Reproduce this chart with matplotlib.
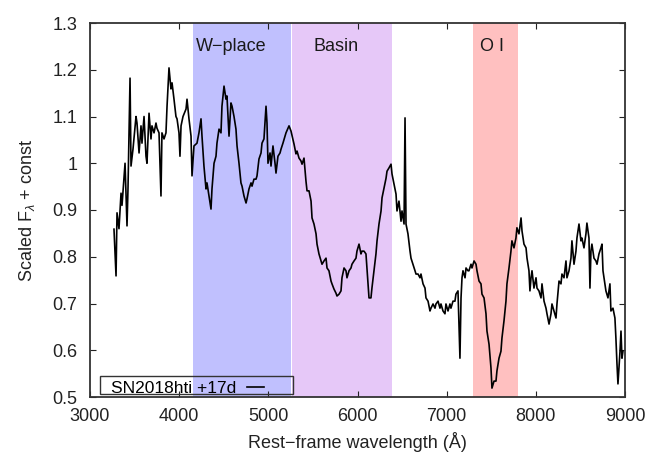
import matplotlib
matplotlib.use("Agg")
import matplotlib.pyplot as plt
from matplotlib.patches import Rectangle

plt.rcParams['font.family'] = ['Liberation Sans', 'DejaVu Sans']
plt.rcParams['mathtext.fontset'] = 'custom'
plt.rcParams['mathtext.rm'] = 'Liberation Sans'
plt.rcParams['mathtext.it'] = 'Liberation Sans:italic'

wavelength = [
    3269, 3292, 3303, 3325, 3348, 3359, 3393, 3415, 3426, 3449, 3460, 3482, 3516, 3527, 3550,
    3572, 3583, 3606, 3628, 3639, 3662, 3684, 3695, 3718, 3740, 3751, 3774, 3796, 3807, 3830,
    3852, 3864, 3886, 3908, 3920, 3942, 3964, 3976, 3998, 4009, 4021, 4043, 4077, 4088, 4110,
    4133, 4144, 4166, 4200, 4222, 4245, 4256, 4278, 4301, 4312, 4335, 4357, 4368, 4391, 4413,
    4424, 4447, 4469, 4480, 4503, 4525, 4536, 4559, 4581, 4593, 4615, 4637, 4649, 4671, 4693,
    4705, 4727, 4750, 4761, 4783, 4806, 4817, 4839, 4862, 4873, 4895, 4918, 4929, 4951, 4974,
    4985, 4996, 5019, 5030, 5052, 5075, 5086, 5108, 5131, 5142, 5164, 5187, 5198, 5232, 5254,
    5288, 5310, 5322, 5344, 5366, 5378, 5400, 5422, 5434, 5456, 5479, 5490, 5512, 5535, 5546,
    5568, 5591, 5602, 5624, 5647, 5658, 5680, 5703, 5714, 5736, 5759, 5770, 5793, 5815, 5826,
    5849, 5871, 5882, 5905, 5927, 5938, 5961, 5983, 5994, 6017, 6039, 6050, 6073, 6095, 6106,
    6129, 6151, 6162, 6185, 6207, 6219, 6241, 6264, 6275, 6297, 6320, 6331, 6353, 6376, 6387,
    6409, 6432, 6443, 6465, 6488, 6499, 6522, 6533, 6544, 6566, 6589, 6600, 6622, 6645, 6656,
    6679, 6701, 6712, 6735, 6757, 6768, 6791, 6813, 6824, 6847, 6869, 6880, 6903, 6925, 6936,
    6959, 6981, 6992, 7015, 7037, 7048, 7071, 7093, 7104, 7127, 7149, 7161, 7172, 7183, 7206,
    7217, 7239, 7250, 7273, 7284, 7307, 7329, 7340, 7363, 7385, 7396, 7419, 7441, 7452, 7475,
    7497, 7508, 7531, 7553, 7564, 7587, 7609, 7620, 7643, 7665, 7676, 7699, 7721, 7732, 7755,
    7777, 7788, 7811, 7834, 7845, 7867, 7890, 7901, 7923, 7934, 7946, 7957, 7979, 8002, 8013,
    8035, 8058, 8069, 8092, 8114, 8125, 8148, 8170, 8181, 8204, 8226, 8237, 8260, 8282, 8293,
    8316, 8338, 8349, 8372, 8394, 8405, 8428, 8450, 8461, 8484, 8506, 8517, 8540, 8562, 8573,
    8596, 8607, 8618, 8629, 8652, 8674, 8686, 8708, 8730, 8742, 8753, 8775, 8786, 8809, 8831,
    8842, 8865, 8887, 8898, 8910, 8921, 8944, 8955, 8966, 8977,
]

flux = [
    0.859, 0.759, 0.894, 0.860, 0.936, 0.910, 1.000, 0.866, 0.945, 1.182, 0.994, 1.030, 1.100, 1.086, 1.022,
    1.080, 1.043, 1.100, 1.015, 1.000, 1.107, 1.052, 1.080, 1.065, 1.086, 1.075, 1.065, 0.930, 1.065, 1.052,
    1.065, 1.122, 1.204, 1.159, 1.172, 1.137, 1.100, 1.095, 1.065, 1.015, 1.080, 1.100, 1.116, 1.137, 1.095,
    1.058, 0.973, 1.037, 1.043, 1.065, 1.095, 1.058, 0.994, 0.945, 0.958, 0.930, 0.902, 0.945, 1.000, 1.015,
    1.043, 1.073, 1.065, 1.122, 1.165, 1.137, 1.144, 1.058, 1.129, 1.122, 1.100, 1.073, 1.037, 1.000, 0.958,
    0.951, 0.930, 0.915, 0.924, 0.945, 0.958, 0.951, 0.966, 0.966, 0.973, 1.009, 1.022, 1.043, 1.052, 1.122,
    1.086, 1.000, 1.022, 0.994, 1.037, 1.000, 0.979, 1.015, 1.022, 1.030, 1.043, 1.058, 1.065, 1.080, 1.069,
    1.041, 1.020, 1.026, 1.011, 1.005, 0.998, 1.011, 0.962, 0.941, 0.941, 0.919, 0.883, 0.870, 0.849, 0.827,
    0.806, 0.791, 0.784, 0.791, 0.797, 0.776, 0.770, 0.748, 0.742, 0.731, 0.722, 0.716, 0.720, 0.727, 0.755,
    0.776, 0.770, 0.755, 0.770, 0.776, 0.784, 0.791, 0.797, 0.812, 0.827, 0.806, 0.812, 0.812, 0.806, 0.776,
    0.712, 0.712, 0.733, 0.770, 0.806, 0.834, 0.870, 0.898, 0.926, 0.947, 0.968, 0.983, 0.990, 0.998, 0.977,
    0.956, 0.934, 0.898, 0.919, 0.876, 0.898, 0.870, 1.097, 0.870, 0.849, 0.812, 0.797, 0.784, 0.770, 0.763,
    0.763, 0.755, 0.763, 0.742, 0.733, 0.712, 0.705, 0.684, 0.690, 0.699, 0.690, 0.699, 0.705, 0.690, 0.699,
    0.684, 0.678, 0.699, 0.684, 0.699, 0.690, 0.705, 0.705, 0.720, 0.727, 0.583, 0.712, 0.755, 0.770, 0.755,
    0.776, 0.770, 0.770, 0.784, 0.776, 0.791, 0.784, 0.770, 0.748, 0.742, 0.720, 0.712, 0.678, 0.641, 0.613,
    0.562, 0.519, 0.534, 0.534, 0.556, 0.583, 0.598, 0.626, 0.663, 0.705, 0.742, 0.776, 0.812, 0.834, 0.819,
    0.840, 0.862, 0.849, 0.883, 0.855, 0.827, 0.819, 0.797, 0.770, 0.727, 0.755, 0.770, 0.733, 0.755, 0.733,
    0.727, 0.712, 0.742, 0.705, 0.690, 0.678, 0.656, 0.678, 0.699, 0.684, 0.669, 0.699, 0.748, 0.742, 0.763,
    0.755, 0.791, 0.755, 0.770, 0.797, 0.834, 0.784, 0.812, 0.840, 0.870, 0.834, 0.840, 0.819, 0.849, 0.872,
    0.840, 0.733, 0.812, 0.827, 0.797, 0.791, 0.784, 0.806, 0.819, 0.827, 0.770, 0.742, 0.727, 0.712, 0.742,
    0.684, 0.690, 0.669, 0.626, 0.571, 0.528, 0.598, 0.641, 0.583, 0.598,
]

band_names = ["W\u2212place", "Basin", "O I"]
band_starts = [4150, 5270, 7290]
band_ends = [5250, 6385, 7800]
band_colors = ["#c0c0fe", "#e6c8f8", "#ffc0c0"]
band_label_x = [4580, 5760, 7510]
band_label_y = 1.25

x_ticks = [3000, 4000, 5000, 6000, 7000, 8000, 9000]
y_ticks = [0.5, 0.6, 0.7, 0.8, 0.9, 1.0, 1.1, 1.2, 1.3]
y_tick_labels = ["0.5", "0.6", "0.7", "0.8", "0.9", "1", "1.1", "1.2", "1.3"]
series_label = "SN2018hti +17d"

FS = 13

fig = plt.figure(figsize=(6.54, 4.58), dpi=100)
ax = fig.add_axes([90 / 654, 1 - 397 / 458, (625 - 90) / 654, (397 - 23) / 458])

for s, e, c in zip(band_starts, band_ends, band_colors):
    ax.axvspan(s, e, color=c, lw=0, zorder=0)
for name, bx in zip(band_names, band_label_x):
    ax.text(bx, band_label_y, name, ha="center", va="center", fontsize=FS, color="#1a1a1a")

line, = ax.plot(wavelength, flux, color="black", lw=1.2, label=series_label, zorder=3)

ax.set_xlim(3000, 9000)
ax.set_ylim(0.5, 1.3)
ax.set_xticks(x_ticks)
ax.set_yticks(y_ticks)
ax.set_yticklabels(y_tick_labels)
ax.tick_params(direction="in", length=4, width=0.8, top=True, right=True,
               labelsize=FS, colors="#222222")
ax.tick_params(axis="x", pad=8)
ax.tick_params(axis="y", pad=9)
for sp in ax.spines.values():
    sp.set_color("#333333")
    sp.set_linewidth(1.3)

ax.set_xlabel("Rest\u2212frame wavelength (Å)", fontsize=FS, color="#222222", labelpad=5)
ax.set_ylabel("Scaled F$_\\lambda$ + const", fontsize=FS, color="#222222", labelpad=11)

# legend box (gnuplot-style, transparent with border)
ax.add_patch(Rectangle((0.019, 0.008), 0.36, 0.048, transform=ax.transAxes,
                       fill=False, edgecolor="#333333", lw=1.0, zorder=4))
leg = ax.legend(handles=[line], labels=[series_label], loc="lower right",
                bbox_to_anchor=(0.348, -0.030), frameon=False, markerfirst=False,
                handlelength=1.0, handletextpad=0.6, fontsize=12.5, borderpad=0.2)
leg.set_zorder(5)

fig.savefig("out.png", dpi=100)
